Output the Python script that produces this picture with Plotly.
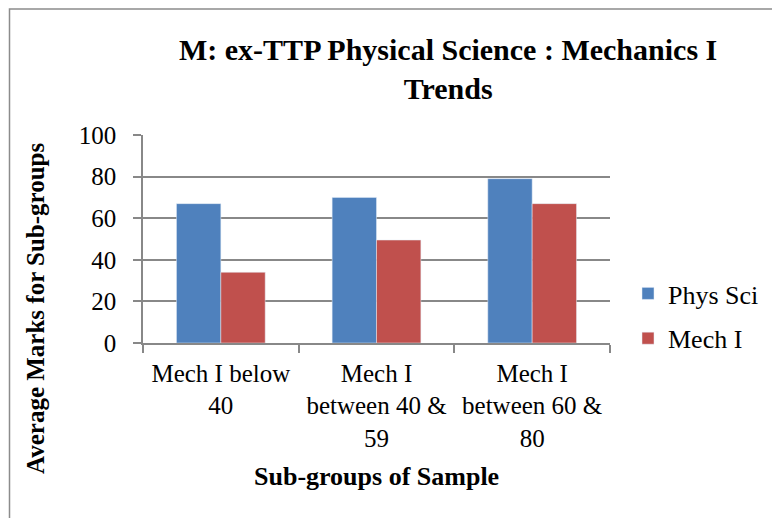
import plotly.graph_objects as go

categories = ["Mech I below<br>40", "Mech I<br>between 40 &<br>59", "Mech I<br>between 60 &<br>80"]
phys_sci = [67, 70, 79]
mech_i = [34, 49.5, 67]
y_ticks = [0, 20, 40, 60, 80, 100]

FONT = "Liberation Serif, Times New Roman, serif"
GRID = "#888888"

fig = go.Figure()
fig.add_trace(go.Bar(x=categories, y=phys_sci, name="Phys Sci", marker=dict(color="#4F81BD"),
                     legendgroup="a"))
fig.add_trace(go.Bar(x=categories, y=mech_i, name="Mech I", marker=dict(color="#C0504D"),
                     legendgroup="b"))

OFF = 8  # page body margin
W, H = 780 - OFF, 518 - OFF
L, T = 143 - OFF, 135 - OFF
R = W - (610 - OFF)
B = H - (343 - OFF)
pw, ph = W - L - R, H - T - B

def px(x):
    return (x - OFF - L) / pw

def py(y):
    return (H - B - (y - OFF)) / ph

fig.update_layout(
    width=W, height=H,
    margin=dict(l=L, r=R, t=T, b=B),
    paper_bgcolor="white", plot_bgcolor="white",
    font=dict(family=FONT, size=26, color="black"),
    barmode="group", bargap=0.43, bargroupgap=0,
    showlegend=True,
    legend=dict(x=px(628), y=py(270), xanchor="left", yanchor="top",
                font=dict(size=26), tracegroupgap=8, itemwidth=30,
                bgcolor="rgba(0,0,0,0)"),
    xaxis=dict(showline=True, linecolor=GRID, linewidth=1.5,
               ticks="outside", ticklen=8, tickcolor=GRID, tickwidth=1.5,
               tickson="boundaries", tickfont=dict(size=25), showgrid=False,
               ticklabelstandoff=7),
    yaxis=dict(range=[0, 100], tickvals=y_ticks, showline=True, linecolor=GRID, linewidth=1.5,
               ticks="outside", ticklen=8, tickcolor=GRID, tickwidth=1.5,
               showgrid=True, gridcolor=GRID, gridwidth=1.5, zeroline=False,
               tickfont=dict(size=25), ticklabelstandoff=12),
    annotations=[
        dict(text="<b>M: ex-TTP Physical Science : Mechanics I<br>Trends</b>", x=px(448), y=py(69),
             xref="paper", yref="paper", showarrow=False, font=dict(size=30), align="center",
             xanchor="center", yanchor="middle"),
        dict(text="<b>Sub-groups of Sample</b>", x=px(376), y=py(476), xref="paper", yref="paper",
             showarrow=False, font=dict(size=26), xanchor="center", yanchor="middle"),
        dict(text="<b>Average Marks for Sub-groups</b>", x=px(35), y=py(308), xref="paper", yref="paper",
             showarrow=False, font=dict(size=25), textangle=-90, xanchor="center", yanchor="middle"),
    ],
    shapes=[dict(type="rect", xref="paper", yref="paper", x0=px(9.5), x1=px(800), y0=py(540), y1=py(9),
                 line=dict(color="#8c8c8c", width=1.5), fillcolor="rgba(0,0,0,0)", layer="below")],
)

fig.write_html("out.html")
